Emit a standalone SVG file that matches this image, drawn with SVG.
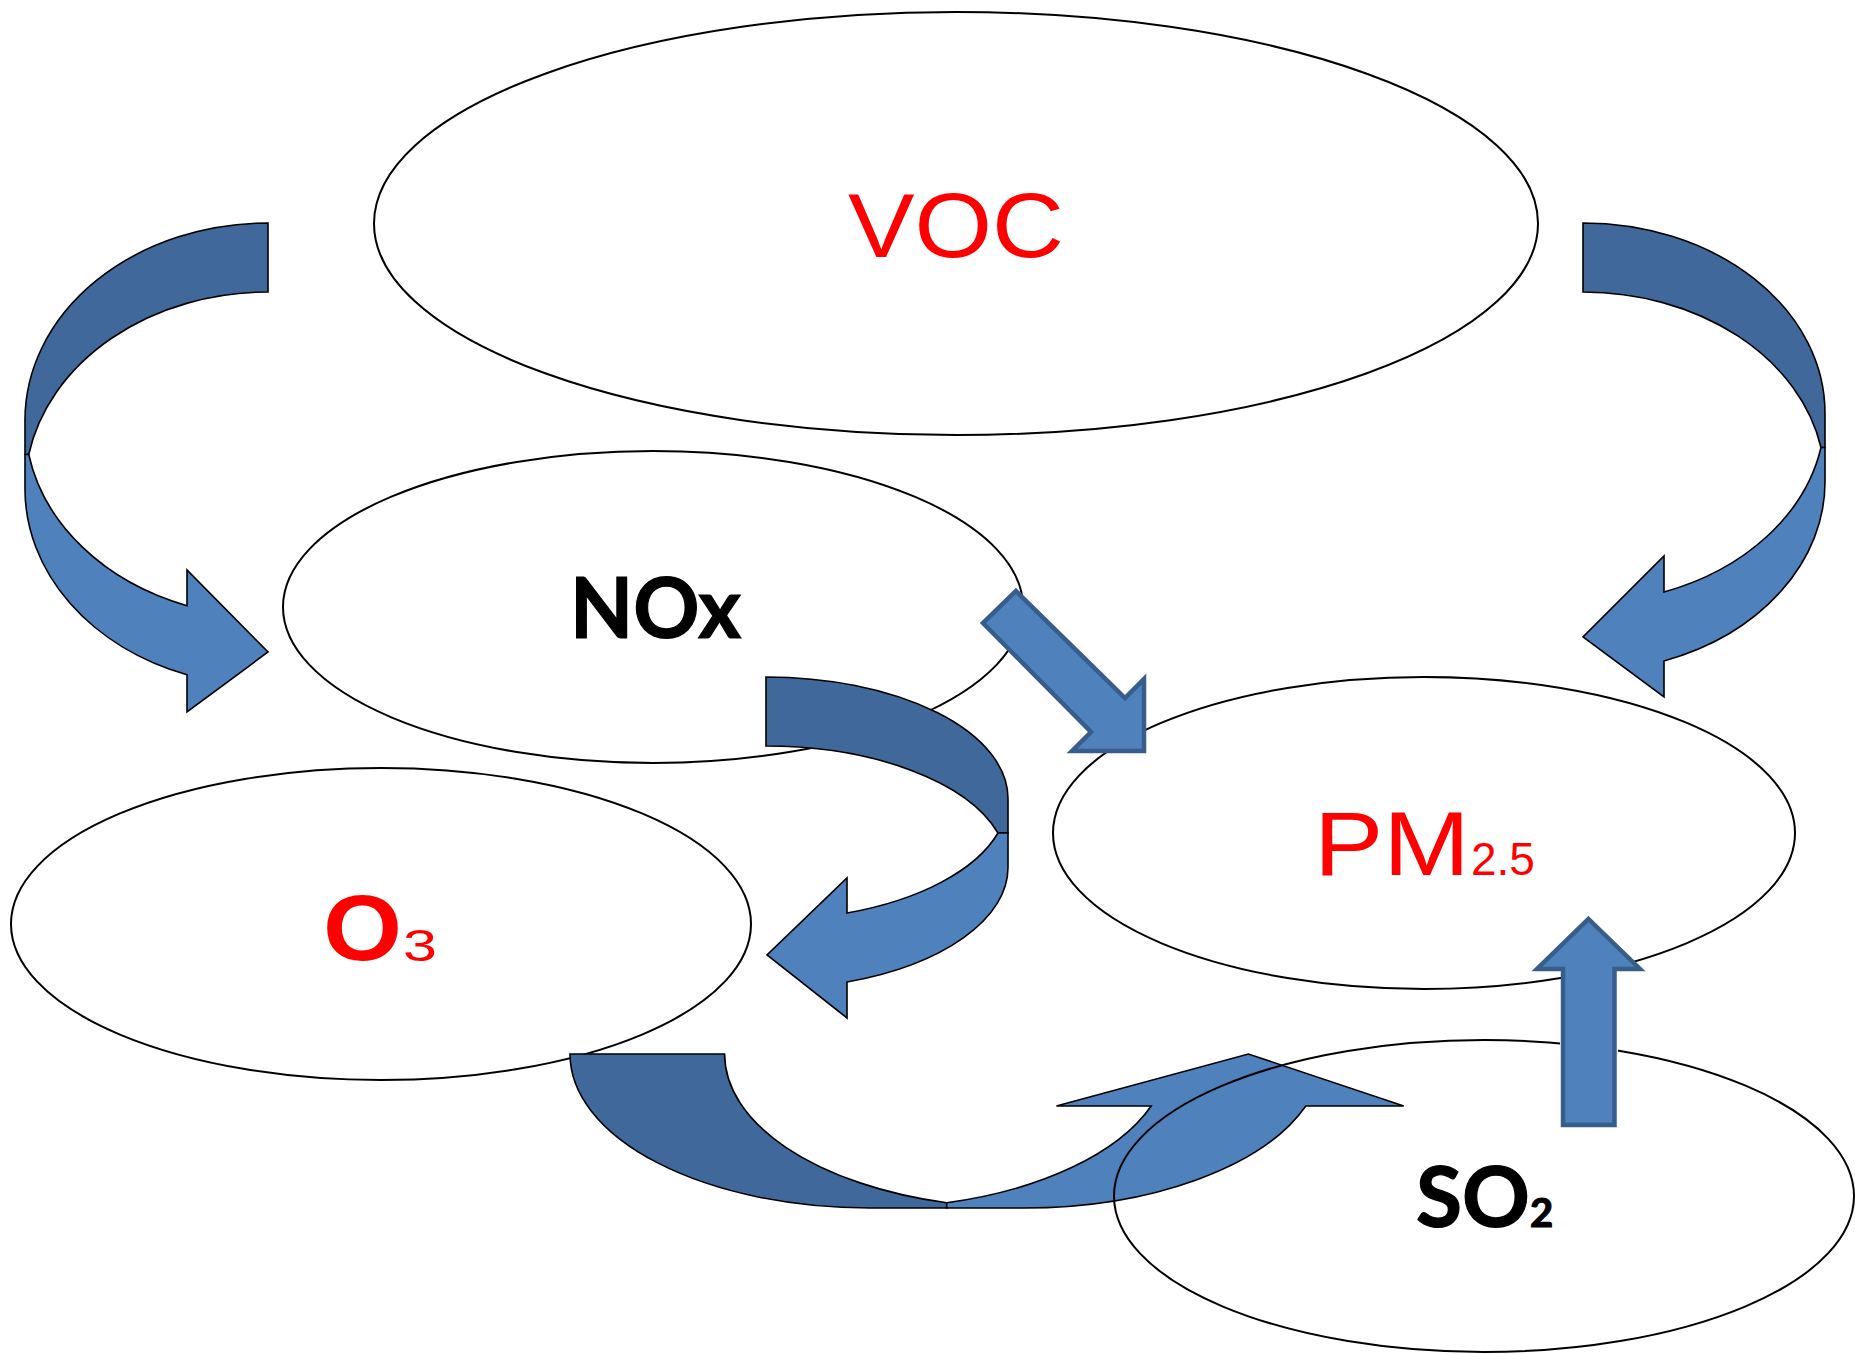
<svg xmlns="http://www.w3.org/2000/svg" width="1855" height="1354" viewBox="0 0 1855 1354">
  <style>
    .node { fill: none; stroke: #000; stroke-width: 2; }
    .back { fill: #41689A; stroke: #000; stroke-width: 1.6; stroke-linejoin: miter; }
    .front { fill: #4F81BD; stroke: #000; stroke-width: 1.6; stroke-linejoin: miter; }
    .block { fill: #4F81BD; stroke: #385D8A; stroke-width: 4.5; stroke-linejoin: miter; }
    .red { fill: #FF0000; font-family: "Liberation Sans", Arial, sans-serif; }
    .blk { fill: #000; stroke: #000; stroke-width: 1.2; font-family: Lato, "Open Sans", sans-serif; font-weight: bold; }
  </style>
  <defs>
    <mask id="so2mask" maskUnits="userSpaceOnUse" x="0" y="0" width="1855" height="1354">
      <rect x="0" y="0" width="1855" height="1354" fill="#fff"/>
      <rect x="1560" y="990" width="58" height="140" fill="#000"/>
    </mask>
  </defs>
  <rect x="0" y="0" width="1855" height="1354" fill="#fff"/>

  <g id="node-voc">
    <ellipse class="node" cx="956" cy="223.5" rx="582" ry="211.5"/>
    <text class="red" x="848" y="257" font-size="90" textLength="216" lengthAdjust="spacingAndGlyphs">VOC</text>
  </g>
  <g id="node-nox">
    <ellipse class="node" cx="653" cy="607" rx="370" ry="156"/>
    <text class="blk" x="570" y="638" font-size="84" textLength="171" lengthAdjust="spacingAndGlyphs">NOx</text>
  </g>
  <g id="node-o3">
    <ellipse class="node" cx="381" cy="924" rx="370" ry="156"/>
    <text class="red" x="323" y="960" font-size="92" font-weight="bold" textLength="79" lengthAdjust="spacingAndGlyphs">O</text>
    <text class="red" x="403" y="961" font-size="44" textLength="34" lengthAdjust="spacingAndGlyphs">3</text>
  </g>
  <g id="node-pm25">
    <ellipse class="node" cx="1424" cy="833" rx="371" ry="156"/>
    <text class="red" x="1314" y="875" font-size="91" textLength="156" lengthAdjust="spacingAndGlyphs">PM</text>
    <text class="red" x="1471" y="875" font-size="46">2.5</text>
  </g>

  <g id="connectors">
    <!-- VOC -> O3 (left curved arrow) -->
    <path class="back" d="M268,223 A243,197 0 0 0 25,420 L25,454.5 L28.75,454.5 A243,197 0 0 1 268,292 Z"/>
    <path class="front" d="M28.75,454.5 L25,454.5 L25,489 A243,197 0 0 0 187,674.7 L187,712 L268,652 L187,570 L187,605.7 A243,197 0 0 1 28.75,454.5 Z"/>
    <!-- VOC -> PM2.5 (right curved arrow) -->
    <path class="back" d="M1583,223 A242,190 0 0 1 1825,413 L1825,447.5 L1821,447.5 A242,190 0 0 0 1583,292 Z"/>
    <path class="front" d="M1821,447.5 L1825,447.5 L1825,482 A242,190 0 0 1 1664,661 L1664,697 L1583,637 L1664,556 L1664,592 A242,190 0 0 0 1821,447.5 Z"/>
    <!-- NOx -> O3 (middle curved arrow) -->
    <path class="back" d="M766,677 A242,121.5 0 0 1 1008,798.5 L1008,833 L998,833 A242,121.5 0 0 0 766,746 Z"/>
    <path class="front" d="M998,833 L1008,833 L1008,867.5 A242,121.5 0 0 1 847,982 L847,1018 L767,955 L847,878 L847,913 A242,121.5 0 0 0 998,833 Z"/>
    <!-- NOx -> PM2.5 (diagonal arrow) -->
    <polygon class="block" points="1016,591 1125,698 1144,679 1144,751 1072,751 1091,732 983,623"/>
    <!-- O3 -> SO2 (bottom curved up arrow) -->
    <path class="back" d="M570,1054 A299.4,154 0 0 0 869.4,1208 L946.7,1208 L946.7,1202.8 A299.4,154 0 0 1 724.6,1054 Z"/>
    <path class="front" d="M946.7,1202.8 L946.7,1208 L1024,1208 A299.4,154 0 0 0 1305.8,1106 L1403.7,1106 L1248.4,1054 L1056.4,1106 L1151.2,1106 A299.4,154 0 0 1 946.7,1202.8 Z"/>
    <!-- SO2 -> PM2.5 (up arrow) -->
    <polygon class="block" points="1588.5,919 1640,969 1614.5,969 1614.5,1125 1563,1125 1563,969 1537,969"/>
  </g>

  <g id="node-so2">
    <ellipse class="node" cx="1484" cy="1196" rx="370" ry="156" mask="url(#so2mask)"/>
    <text class="blk" x="1416" y="1227" font-size="84">SO<tspan font-size="40">2</tspan></text>
  </g>
</svg>
